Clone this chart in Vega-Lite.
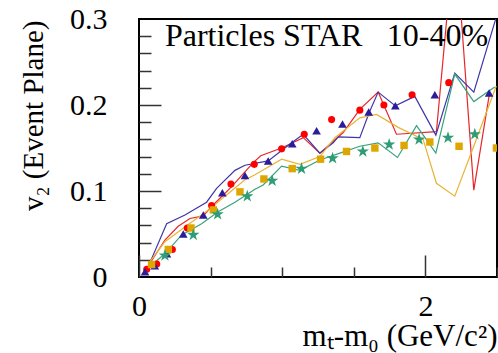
{
  "$schema": "https://vega.github.io/schema/vega-lite/v6.json",
  "width": 358,
  "height": 258,
  "autosize": "none",
  "padding": {"left": 139, "top": 19, "right": 1, "bottom": 76},
  "background": "white",
  "config": {
    "view": {"stroke": "black", "strokeWidth": 2},
    "axis": {"grid": false, "domain": false, "labelColor": "black", "titleColor": "black", "tickColor": "#333", "titleFontWeight": "normal"}
  },
  "datasets": {
    "lines": [
      {"series": "red", "x": 0.054, "y": 0.010}, {"series": "red", "x": 0.181, "y": 0.043}, {"series": "red", "x": 0.274, "y": 0.059}, {"series": "red", "x": 0.356, "y": 0.068}, {"series": "red", "x": 0.449, "y": 0.071}, {"series": "red", "x": 0.507, "y": 0.082}, {"series": "red", "x": 0.647, "y": 0.105}, {"series": "red", "x": 0.798, "y": 0.133}, {"series": "red", "x": 0.85, "y": 0.141}, {"series": "red", "x": 0.996, "y": 0.150}, {"series": "red", "x": 1.147, "y": 0.162}, {"series": "red", "x": 1.263, "y": 0.144}, {"series": "red", "x": 1.426, "y": 0.168}, {"series": "red", "x": 1.542, "y": 0.195}, {"series": "red", "x": 1.67, "y": 0.215}, {"series": "red", "x": 1.798, "y": 0.166}, {"series": "red", "x": 2.077, "y": 0.169}, {"series": "red", "x": 2.206, "y": 0.404}, {"series": "red", "x": 2.338, "y": 0.101}, {"series": "red", "x": 2.449, "y": 0.215},
      {"series": "blue", "x": 0.054, "y": 0.008}, {"series": "blue", "x": 0.193, "y": 0.062}, {"series": "blue", "x": 0.321, "y": 0.072}, {"series": "blue", "x": 0.472, "y": 0.087}, {"series": "blue", "x": 0.542, "y": 0.103}, {"series": "blue", "x": 0.67, "y": 0.124}, {"series": "blue", "x": 0.74, "y": 0.130}, {"series": "blue", "x": 0.902, "y": 0.135}, {"series": "blue", "x": 1.066, "y": 0.156}, {"series": "blue", "x": 1.147, "y": 0.166}, {"series": "blue", "x": 1.263, "y": 0.144}, {"series": "blue", "x": 1.356, "y": 0.156}, {"series": "blue", "x": 1.391, "y": 0.163}, {"series": "blue", "x": 1.542, "y": 0.162}, {"series": "blue", "x": 1.607, "y": 0.191}, {"series": "blue", "x": 1.67, "y": 0.215}, {"series": "blue", "x": 1.79, "y": 0.199}, {"series": "blue", "x": 1.926, "y": 0.210}, {"series": "blue", "x": 2.073, "y": 0.165}, {"series": "blue", "x": 2.205, "y": 0.237}, {"series": "blue", "x": 2.338, "y": 0.215}, {"series": "blue", "x": 2.5, "y": 0.305},
      {"series": "gold", "x": 0.077, "y": 0.018}, {"series": "gold", "x": 0.181, "y": 0.041}, {"series": "gold", "x": 0.344, "y": 0.061}, {"series": "gold", "x": 0.495, "y": 0.079}, {"series": "gold", "x": 0.60, "y": 0.094}, {"series": "gold", "x": 0.74, "y": 0.113}, {"series": "gold", "x": 0.81, "y": 0.119}, {"series": "gold", "x": 0.996, "y": 0.137}, {"series": "gold", "x": 1.124, "y": 0.131}, {"series": "gold", "x": 1.263, "y": 0.140}, {"series": "gold", "x": 1.368, "y": 0.162}, {"series": "gold", "x": 1.542, "y": 0.185}, {"series": "gold", "x": 1.659, "y": 0.189}, {"series": "gold", "x": 1.81, "y": 0.174}, {"series": "gold", "x": 1.984, "y": 0.160}, {"series": "gold", "x": 2.077, "y": 0.109}, {"series": "gold", "x": 2.205, "y": 0.094}, {"series": "gold", "x": 2.333, "y": 0.150}, {"series": "gold", "x": 2.495, "y": 0.222},
      {"series": "green", "x": 0.088, "y": 0.014}, {"series": "green", "x": 0.181, "y": 0.027}, {"series": "green", "x": 0.298, "y": 0.049}, {"series": "green", "x": 0.437, "y": 0.062}, {"series": "green", "x": 0.553, "y": 0.076}, {"series": "green", "x": 0.67, "y": 0.087}, {"series": "green", "x": 0.81, "y": 0.102}, {"series": "green", "x": 0.867, "y": 0.107}, {"series": "green", "x": 0.996, "y": 0.129}, {"series": "green", "x": 1.124, "y": 0.124}, {"series": "green", "x": 1.263, "y": 0.136}, {"series": "green", "x": 1.403, "y": 0.144}, {"series": "green", "x": 1.542, "y": 0.152}, {"series": "green", "x": 1.67, "y": 0.156}, {"series": "green", "x": 1.805, "y": 0.139}, {"series": "green", "x": 1.938, "y": 0.176}, {"series": "green", "x": 2.073, "y": 0.144}, {"series": "green", "x": 2.205, "y": 0.236}, {"series": "green", "x": 2.338, "y": 0.204}, {"series": "green", "x": 2.484, "y": 0.221}
    ],
    "points": [
      {"series": "red", "x": 0.054, "y": 0.009}, {"series": "red", "x": 0.124, "y": 0.015}, {"series": "red", "x": 0.233, "y": 0.032}, {"series": "red", "x": 0.337, "y": 0.057}, {"series": "red", "x": 0.507, "y": 0.083}, {"series": "red", "x": 0.642, "y": 0.108}, {"series": "red", "x": 0.805, "y": 0.131}, {"series": "red", "x": 0.996, "y": 0.149}, {"series": "red", "x": 1.154, "y": 0.166}, {"series": "red", "x": 1.345, "y": 0.183}, {"series": "red", "x": 1.542, "y": 0.194}, {"series": "red", "x": 1.71, "y": 0.200}, {"series": "red", "x": 1.907, "y": 0.212}, {"series": "red", "x": 2.163, "y": 0.226},
      {"series": "blue", "x": 0.042, "y": 0.006}, {"series": "blue", "x": 0.11, "y": 0.013}, {"series": "blue", "x": 0.195, "y": 0.027}, {"series": "blue", "x": 0.309, "y": 0.050}, {"series": "blue", "x": 0.449, "y": 0.072}, {"series": "blue", "x": 0.582, "y": 0.098}, {"series": "blue", "x": 0.74, "y": 0.118}, {"series": "blue", "x": 0.902, "y": 0.135}, {"series": "blue", "x": 1.07, "y": 0.155}, {"series": "blue", "x": 1.24, "y": 0.170}, {"series": "blue", "x": 1.421, "y": 0.178}, {"series": "blue", "x": 1.604, "y": 0.192}, {"series": "blue", "x": 1.79, "y": 0.199}, {"series": "blue", "x": 2.066, "y": 0.212}, {"series": "blue", "x": 2.445, "y": 0.214},
      {"series": "gold", "x": 0.088, "y": 0.0145}, {"series": "gold", "x": 0.205, "y": 0.032}, {"series": "gold", "x": 0.363, "y": 0.057}, {"series": "gold", "x": 0.519, "y": 0.078}, {"series": "gold", "x": 0.705, "y": 0.099}, {"series": "gold", "x": 0.872, "y": 0.114}, {"series": "gold", "x": 1.07, "y": 0.126}, {"series": "gold", "x": 1.268, "y": 0.137}, {"series": "gold", "x": 1.449, "y": 0.146}, {"series": "gold", "x": 1.647, "y": 0.150}, {"series": "gold", "x": 1.851, "y": 0.153}, {"series": "gold", "x": 2.031, "y": 0.157}, {"series": "gold", "x": 2.235, "y": 0.152}, {"series": "gold", "x": 2.496, "y": 0.150},
      {"series": "green", "x": 0.181, "y": 0.025}, {"series": "green", "x": 0.379, "y": 0.049}, {"series": "green", "x": 0.549, "y": 0.073}, {"series": "green", "x": 0.756, "y": 0.094}, {"series": "green", "x": 0.93, "y": 0.112}, {"series": "green", "x": 1.135, "y": 0.126}, {"series": "green", "x": 1.352, "y": 0.138}, {"series": "green", "x": 1.563, "y": 0.146}, {"series": "green", "x": 1.747, "y": 0.154}, {"series": "green", "x": 1.956, "y": 0.160}, {"series": "green", "x": 2.158, "y": 0.162}, {"series": "green", "x": 2.345, "y": 0.166}
    ],
    "labels": [
      {"x": 0.181, "y": 0.269, "text": "Particles STAR"},
      {"x": 1.73, "y": 0.269, "text": "10-40%"}
    ]
  },
  "resolve": {"axis": {"x": "independent", "y": "independent"}, "scale": {"color": "independent", "size": "independent", "shape": "independent"}},
  "layer": [
    {
      "data": {"name": "lines"},
      "mark": {"type": "line", "strokeWidth": 1.2, "clip": true},
      "encoding": {
        "x": {"field": "x", "type": "quantitative", "scale": {"domain": [0, 2.5], "nice": false, "zero": false},
              "axis": {"orient": "bottom", "values": [0, 2], "ticks": false, "labelFont": "Liberation Serif", "labelFontSize": 30, "labelPadding": 14, "labelBaseline": "top", "labelFlush": false,
                       "title": "mₜ-m₀ (GeV/c²)", "titleFont": "Liberation Serif", "titleFontSize": 31, "titleAnchor": "end", "titleAlign": "right", "titleBaseline": "alphabetic", "titleX": 358, "titleY": 68}},
        "y": {"field": "y", "type": "quantitative", "scale": {"domain": [0, 0.3], "nice": false, "zero": false},
              "axis": {"orient": "left", "values": [0, 0.1, 0.2, 0.3], "format": "~g", "ticks": false, "labelFont": "Liberation Serif", "labelFontSize": 30, "labelPadding": 32, "labelFlush": false,
                       "title": "v₂ (Event Plane)", "titleFont": "Liberation Serif", "titleFontSize": 29, "titleAngle": -90, "titleAlign": "right", "titleBaseline": "alphabetic", "titleX": -97, "titleY": 1}},
        "color": {"field": "series", "type": "nominal", "legend": null,
                  "scale": {"domain": ["red", "blue", "gold", "green"], "range": ["#e8262a", "#3f36a6", "#e8b434", "#3aa27c"]}}
      }
    },
    {
      "data": {"name": "points"},
      "mark": {"type": "point", "filled": true, "opacity": 1, "clip": true},
      "encoding": {
        "x": {"field": "x", "type": "quantitative", "axis": {"orient": "bottom", "values": [0, 2], "labels": false, "tickSize": -22, "tickWidth": 1.5, "title": null}},
        "y": {"field": "y", "type": "quantitative", "axis": {"orient": "left", "values": [0.1, 0.2], "labels": false, "tickSize": -22, "tickWidth": 1.5, "title": null}},
        "shape": {"field": "series", "type": "nominal", "legend": null,
                  "scale": {"domain": ["red", "blue", "gold", "green"], "range": ["circle", "triangle-up", "square", "M0,-1L0.2245,-0.309L0.951,-0.309L0.3633,0.118L0.5878,0.809L0,0.382L-0.5878,0.809L-0.3633,0.118L-0.951,-0.309L-0.2245,-0.309Z"]}},
        "size": {"field": "series", "type": "nominal", "legend": null,
                 "scale": {"type": "ordinal", "domain": ["red", "blue", "gold", "green"], "range": [50, 75, 55, 170]}},
        "color": {"field": "series", "type": "nominal", "legend": null,
                  "scale": {"domain": ["red", "blue", "gold", "green"], "range": ["#ff0000", "#2a1c9a", "#e0a600", "#2e9c74"]}}
      }
    },
    {
      "data": {"name": "labels"},
      "mark": {"type": "text", "align": "left", "baseline": "alphabetic", "fontSize": 32, "font": "Liberation Serif", "color": "black"},
      "encoding": {
        "x": {"field": "x", "type": "quantitative", "axis": {"orient": "bottom", "values": [0.5, 1, 1.5, 2.5], "labels": false, "tickSize": -10, "tickWidth": 1.5, "title": null}},
        "y": {"field": "y", "type": "quantitative", "axis": {"orient": "left", "values": [0.02, 0.04, 0.06, 0.08, 0.12, 0.14, 0.16, 0.18, 0.22, 0.24, 0.26, 0.28], "labels": false, "tickSize": -12, "tickWidth": 1.5, "title": null}},
        "text": {"field": "text"}
      }
    }
  ]
}
